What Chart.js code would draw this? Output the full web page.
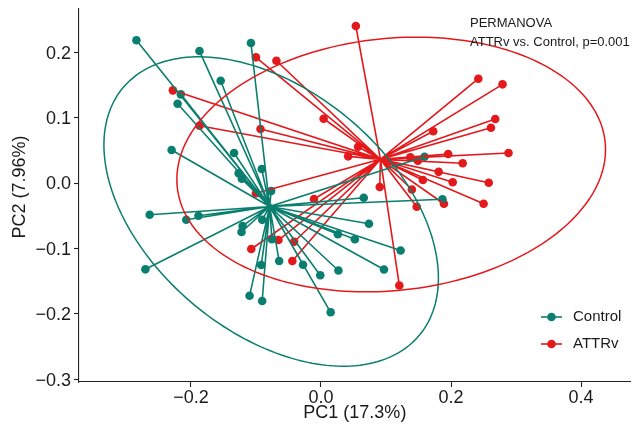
<!DOCTYPE html>
<html>
<head>
<meta charset="utf-8">
<script src="https://cdn.jsdelivr.net/npm/chart.js@4"></script>
<style>
  body { margin: 0; background: #fff; }
  #wrap { width: 635px; height: 428px; }
</style>
</head>
<body>
<div id="wrap"><canvas id="myChart" width="635" height="428"></canvas></div>
<script>
// gruppi
const groups = ["Control", "ATTRv"];

// punti Control (PC1, PC2)
const controlPC1 = [-0.2838, -0.1868, -0.1077, -0.1542, -0.2155, -0.2205, -0.2297, -0.1337, -0.1266, -0.1217,
  -0.0911, -0.0766, -0.2634, -0.2072, -0.1884, -0.2700, -0.1205, -0.1222, -0.0904, -0.0755,
  -0.0643, -0.0919, -0.1098, -0.0904, -0.0276, -0.0011, 0.0268, 0.0149, 0.0969, 0.0260,
  0.0521, 0.0738, 0.1225, 0.0658, 0.1868, 0.1593];
const controlPC2 = [0.2182, 0.2018, 0.2141, 0.1564, 0.1356, 0.1213, 0.0505, 0.0459, 0.0148, 0.0064,
  0.0214, -0.0122, -0.0485, -0.0561, -0.0500, -0.1320, -0.0657, -0.0749, -0.0563, -0.0861,
  -0.1193, -0.1254, -0.1723, -0.1804, -0.1249, -0.1411, -0.1338, -0.1977, -0.1323, -0.0784,
  -0.0859, -0.0622, -0.1032, -0.0225, -0.0249, 0.0402];

// punti ATTRv (PC1, PC2)
const attrPC1 = [0.0536, -0.1000, -0.0685, -0.2277, -0.1868, -0.0930, 0.0041, 0.0571, 0.0418, 0.2420,
  0.2792, 0.2680, 0.2614, 0.1726, 0.2884, 0.1956, 0.1374, 0.1490, 0.2179, 0.1810,
  0.1567, 0.2026, 0.2580, 0.0904, 0.1398, -0.0107, 0.1473, 0.1891, 0.2501, 0.1205,
  -0.1000, -0.1072, -0.0654, -0.0413, -0.0440];
const attrPC2 = [0.2401, 0.1922, 0.1870, 0.1417, 0.0876, 0.0826, 0.0983, 0.0555, 0.0408, 0.1595,
  0.1509, 0.0979, 0.0846, 0.0791, 0.0459, 0.0443, 0.0393, 0.0341, 0.0303, 0.0171,
  0.0046, 0.0012, 0.0003, -0.0061, -0.0099, -0.0245, -0.0362, -0.0317, -0.0317, -0.1567,
  -0.0157, -0.1009, -0.0872, -0.0898, -0.1193];

// centroidi
const controlCentroid = [-0.0789, -0.0359];
const attrCentroid = [0.0914, 0.0362];

// ellissi: centro, semiassi, rotazione (gradi)
const controlEllipse = [-0.0766, -0.0436, 0.2962, 0.1854, -39.5];
const attrEllipse = [0.1080, 0.0283, 0.3308, 0.1927, 6];

// tick
const xTicks = [-0.2, 0.0, 0.2, 0.4];
const yTicks = [-0.3, -0.2, -0.1, 0.0, 0.1, 0.2];

const teal = "#0B7F6F";
const red = "#E3191C";
const font = "'Liberation Sans', Arial, sans-serif";

function toPoints(xs, ys) {
  return xs.map((v, i) => ({ x: v, y: ys[i] }));
}

// linee dal centroide a ogni punto
function spider(xs, ys, c) {
  const out = [];
  xs.forEach((v, i) => {
    out.push({ x: c[0], y: c[1] });
    out.push({ x: v, y: ys[i] });
  });
  return out;
}

function fmt(v) {
  if (Math.abs(v) < 1e-9) return "0.0";
  return (v < 0 ? "\u2212" : "") + Math.abs(v).toFixed(1);
}

const ellipsePlugin = {
  id: "ellissi",
  afterDatasetsDraw(chart) {
    const { ctx, scales } = chart;
    [[controlEllipse, teal], [attrEllipse, red]].forEach(([e, col]) => {
      const ang = (e[4] * Math.PI) / 180;
      ctx.save();
      ctx.strokeStyle = col;
      ctx.lineWidth = 1.5;
      ctx.beginPath();
      for (let i = 0; i <= 200; i++) {
        const t = (i / 200) * 2 * Math.PI;
        const ex = e[2] * Math.cos(t);
        const ey = e[3] * Math.sin(t);
        const px = scales.x.getPixelForValue(e[0] + ex * Math.cos(ang) - ey * Math.sin(ang));
        const py = scales.y.getPixelForValue(e[1] + ex * Math.sin(ang) + ey * Math.cos(ang));
        if (i === 0) ctx.moveTo(px, py);
        else ctx.lineTo(px, py);
      }
      ctx.stroke();
      ctx.restore();
    });
  },
  afterDraw(chart) {
    const { ctx, chartArea } = chart;
    ctx.save();
    ctx.fillStyle = "#1a1a1a";
    // testo PERMANOVA
    ctx.font = "13px " + font;
    ctx.textBaseline = "middle";
    ctx.textAlign = "left";
    ctx.fillText("PERMANOVA", chartArea.left + 391, chartArea.top + 14);
    ctx.fillText("ATTRv vs. Control, p=0.001", chartArea.left + 391, chartArea.top + 33);

    // legenda
    [teal, red].forEach((col, i) => {
      const yy = chartArea.top + 308 + i * 27;
      const xx = chartArea.left + 462;
      ctx.strokeStyle = col;
      ctx.lineWidth = 1.6;
      ctx.beginPath();
      ctx.moveTo(xx, yy);
      ctx.lineTo(xx + 21, yy);
      ctx.stroke();
      ctx.fillStyle = col;
      ctx.beginPath();
      ctx.arc(xx + 10.5, yy, 4.3, 0, 2 * Math.PI);
      ctx.fill();
      ctx.fillStyle = "#1a1a1a";
      ctx.font = "15px " + font;
      ctx.fillText(groups[i], xx + 32, yy);
    });

    // titoli assi
    ctx.font = "18px " + font;
    ctx.textAlign = "center";
    ctx.fillText("PC1 (17.3%)", (chartArea.left + chartArea.right) / 2, chartArea.bottom + 31);
    ctx.translate(20.5, 187);
    ctx.rotate(-Math.PI / 2);
    ctx.fillText("PC2 (7.96%)", 0, 0);
    ctx.restore();
  },
};

const axisCommon = {
  type: "linear",
  grid: {
    drawOnChartArea: false,
    drawTicks: true,
    tickLength: 5,
    tickColor: "#222",
    tickWidth: 1.1,
  },
  border: { color: "#222", width: 1.1 },
};

const config = {
  type: "scatter",
  data: {
    datasets: [
      {
        type: "line",
        data: spider(controlPC1, controlPC2, controlCentroid),
        borderColor: teal,
        borderWidth: 1.6,
        pointRadius: 0,
        tension: 0,
      },
      {
        type: "line",
        data: spider(attrPC1, attrPC2, attrCentroid),
        borderColor: red,
        borderWidth: 1.6,
        pointRadius: 0,
        tension: 0,
      },
      {
        label: groups[0],
        data: toPoints(controlPC1, controlPC2),
        backgroundColor: teal,
        borderWidth: 0,
        pointRadius: 4.3,
      },
      {
        label: groups[1],
        data: toPoints(attrPC1, attrPC2),
        backgroundColor: red,
        borderWidth: 0,
        pointRadius: 4.3,
      },
    ],
  },
  options: {
    responsive: false,
    animation: false,
    layout: { padding: { top: 9, right: 2, left: 0, bottom: 0 } },
    plugins: {
      legend: { display: false },
      tooltip: { enabled: false },
    },
    scales: {
      x: {
        ...axisCommon,
        min: -0.3721,
        max: 0.4763,
        afterBuildTicks: (s) => { s.ticks = xTicks.map((v) => ({ value: v })); },
        afterFit: (s) => {
          s.height = 46;
          s.paddingLeft = 0;
          s.paddingRight = 0;
        },
        ticks: {
          padding: 0,
          color: "#1a1a1a",
          font: { family: font, size: 18 },
          callback: (v) => fmt(v),
        },
      },
      y: {
        ...axisCommon,
        min: -0.3043,
        max: 0.2661,
        afterBuildTicks: (s) => { s.ticks = yTicks.map((v) => ({ value: v })); },
        afterFit: (s) => {
          s.width = 79;
          s.paddingTop = 0;
          s.paddingBottom = 0;
        },
        ticks: {
          padding: 3,
          labelOffset: 1.5,
          color: "#1a1a1a",
          font: { family: font, size: 18 },
          callback: (v) => fmt(v),
        },
      },
    },
  },
  plugins: [ellipsePlugin],
};

const myChart = new Chart(document.getElementById("myChart"), config);
</script>
</body>
</html>
